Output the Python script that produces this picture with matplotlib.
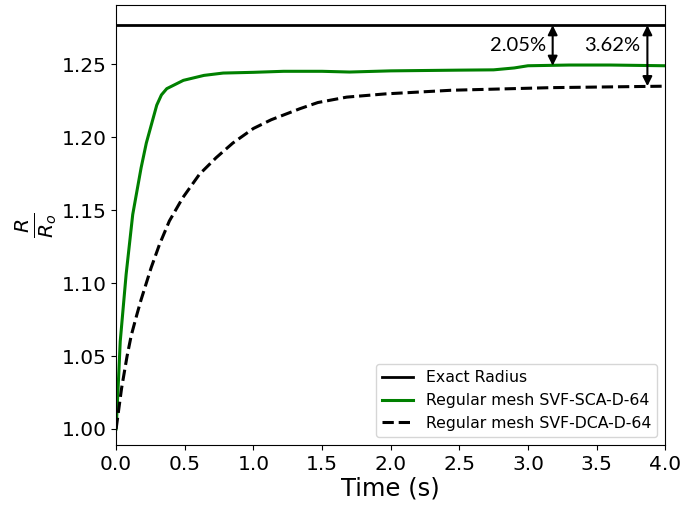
import matplotlib.pyplot as plt

# Exact radius (normalised)
exact_r = 1.2768

# Regular mesh SVF-SCA-D-64
t_sca = [0, 0.017, 0.03, 0.073, 0.121, 0.182, 0.22, 0.296, 0.33, 0.369,
         0.49, 0.64, 0.78, 1.0, 1.22, 1.5, 1.7, 2.0, 2.5, 2.75, 2.9, 3.0,
         3.3, 3.6, 4.0]
r_sca = [1.0, 1.033, 1.06, 1.106, 1.147, 1.179, 1.196, 1.222, 1.229, 1.2333,
         1.239, 1.2424, 1.244, 1.2445, 1.2452, 1.2452, 1.2447, 1.2455, 1.246,
         1.2462, 1.2475, 1.249, 1.2495, 1.2495, 1.249]

# Regular mesh SVF-DCA-D-64
t_dca = [0, 0.04, 0.08, 0.11, 0.15, 0.18, 0.255, 0.316, 0.388, 0.486,
         0.607, 0.729, 0.85, 1.0, 1.13, 1.34, 1.47, 1.68, 1.96, 2.44, 3.17,
         4.0]
r_dca = [1.0, 1.028, 1.05, 1.064, 1.078, 1.088, 1.1105, 1.1265, 1.1426,
         1.1586, 1.1746, 1.186, 1.196, 1.206, 1.212, 1.2196, 1.2238, 1.2275,
         1.2297, 1.2322, 1.234, 1.235]

fig = plt.figure(figsize=(6.83, 5.08), dpi=100)
ax = fig.add_axes([0.170, 0.124, 0.804, 0.866])

ax.axhline(exact_r, color='black', lw=2, label='Exact Radius')
ax.plot(t_sca, r_sca, color='green', lw=2.2, label='Regular mesh SVF-SCA-D-64')
ax.plot(t_dca, r_dca, color='black', ls='--', lw=2.2,
        label='Regular mesh SVF-DCA-D-64')

# Error arrows
arrow_style = dict(arrowstyle='<|-|>', color='black', lw=1.5,
                   mutation_scale=14, shrinkA=0, shrinkB=0)
ax.annotate('', xy=(3.18, r_sca[-1]), xytext=(3.18, exact_r),
            arrowprops=arrow_style)
ax.annotate('', xy=(3.87, r_dca[-1]), xytext=(3.87, exact_r),
            arrowprops=arrow_style)
ax.text(3.13, 1.2627, '2.05%', ha='right', va='center', fontsize=14.5,
        family='Lato')
ax.text(3.82, 1.2627, '3.62%', ha='right', va='center', fontsize=14.5,
        family='Lato')

ax.set_xlim(0, 4)
ax.set_ylim(0.989, 1.2906)
ax.set_xticks([0, 0.5, 1, 1.5, 2, 2.5, 3, 3.5, 4])
ax.set_yticks([1.0, 1.05, 1.10, 1.15, 1.20, 1.25])
ax.tick_params(axis='both', labelsize=14.5)
ax.set_xlabel('Time (s)', fontsize=17.5, labelpad=2)
ax.set_ylabel(r'$\frac{R}{R_o}$', fontsize=21, labelpad=2)

ax.legend(loc='lower right', fontsize=11.3)

fig.savefig('out.png', dpi=100)
